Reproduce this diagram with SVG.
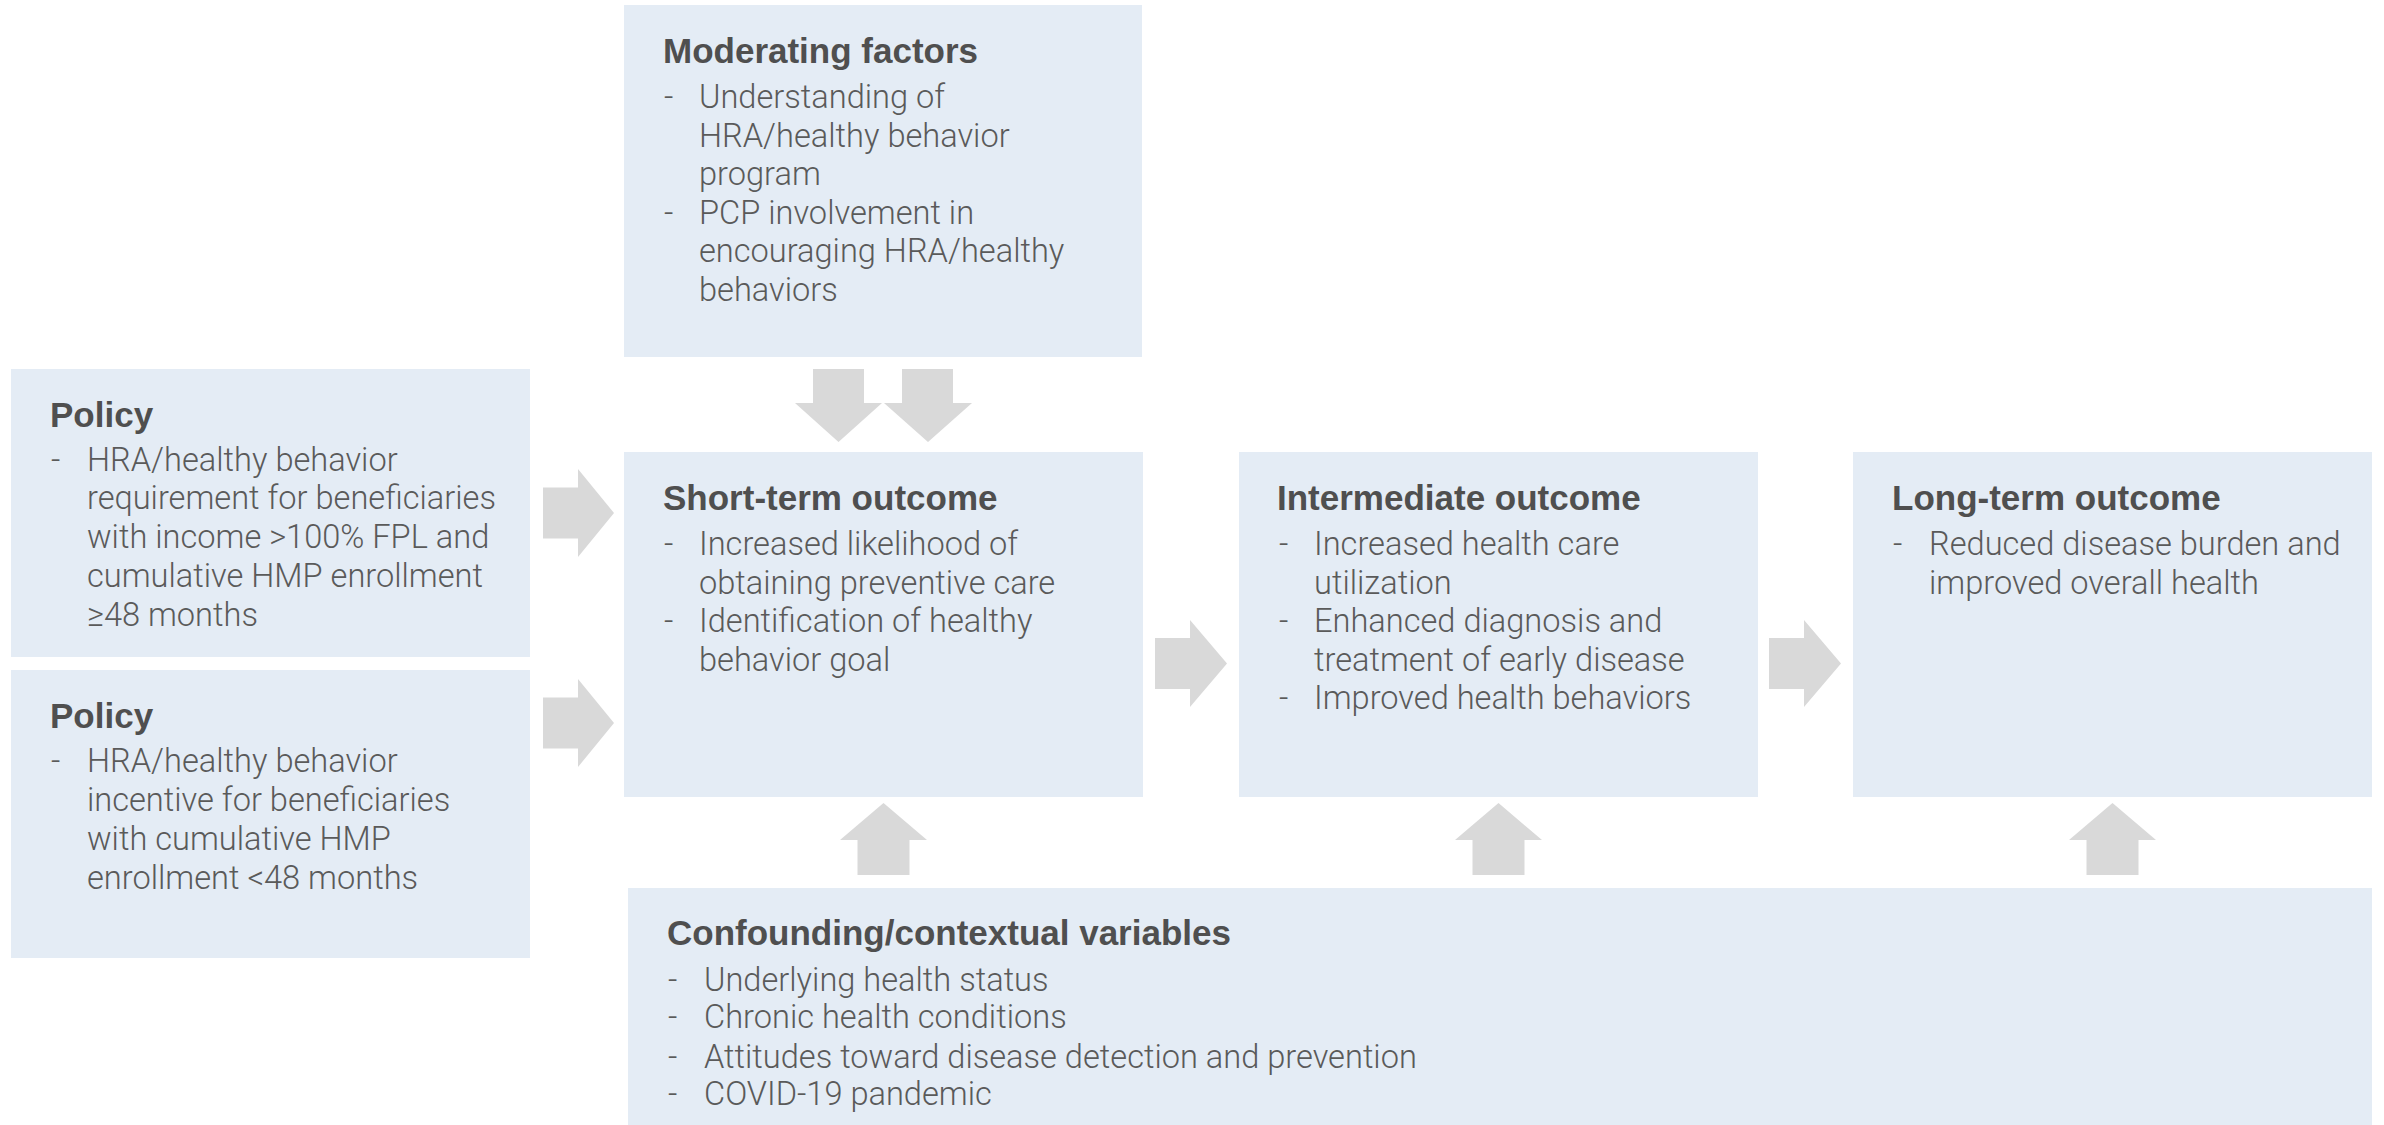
<svg xmlns="http://www.w3.org/2000/svg" width="2384" height="1125" viewBox="0 0 2384 1125">
<style>
.box{fill:#e4ecf5}
.arr{fill:#d9d9d9}
.t{font-family:"Liberation Sans","Roboto",sans-serif;font-weight:700;font-size:35px;fill:#4f4f4f}
.b{font-family:"Roboto","Liberation Sans",sans-serif;font-weight:300;font-size:32.6px;fill:#5a5a5a}
</style>
<rect width="2384" height="1125" fill="#ffffff"/>
<g id="connectors">
<polygon class="arr" points="543,487.5 578,487.5 578,469 614,513 578,557 578,538.5 543,538.5"/>
<polygon class="arr" points="543,697.5 578,697.5 578,679 614,723 578,767 578,748.5 543,748.5"/>
<polygon class="arr" points="1155,638 1190,638 1190,620 1227,663.5 1190,707 1190,689 1155,689"/>
<polygon class="arr" points="1769,638 1804,638 1804,620 1841,663.5 1804,707 1804,689 1769,689"/>
<polygon class="arr" points="813,369 864,369 864,403 882,403 838.5,442 795,403 813,403"/>
<polygon class="arr" points="902,369 953,369 953,403 972,403 928,442 884,403 902,403"/>
<polygon class="arr" points="883.5,803 927,840 909.5,840 909.5,875 857.5,875 857.5,840 840,840"/>
<polygon class="arr" points="1498.5,803 1542,840 1524.5,840 1524.5,875 1472.5,875 1472.5,840 1455,840"/>
<polygon class="arr" points="2112.5,803 2156,840 2138.5,840 2138.5,875 2086.5,875 2086.5,840 2069,840"/>
</g>
<g id="moderating">
<rect class="box" x="624" y="5" width="518" height="352"/>
<text class="t" x="663" y="63">Moderating factors</text>
<text class="b" x="664" y="108">-</text>
<text class="b" x="699" y="108"><tspan x="699" y="108">Understanding of</tspan><tspan x="699" y="146.5">HRA/healthy behavior</tspan><tspan x="699" y="185">program</tspan></text>
<text class="b" x="664" y="223.5">-</text>
<text class="b" x="699" y="223.5"><tspan x="699" y="223.5">PCP involvement in</tspan><tspan x="699" y="262">encouraging HRA/healthy</tspan><tspan x="699" y="300.5">behaviors</tspan></text>
</g>
<g id="policy1">
<rect class="box" x="11" y="369" width="519" height="288"/>
<text class="t" x="50" y="427">Policy</text>
<text class="b" x="51" y="470.5">-</text>
<text class="b" x="87" y="470.5"><tspan x="87" y="470.5">HRA/healthy behavior</tspan><tspan x="87" y="509">requirement for beneficiaries</tspan><tspan x="87" y="548">with income &gt;100% FPL and</tspan><tspan x="87" y="587">cumulative HMP enrollment</tspan><tspan x="87" y="626">≥48 months</tspan></text>
</g>
<g id="policy2">
<rect class="box" x="11" y="670" width="519" height="288"/>
<text class="t" x="50" y="728">Policy</text>
<text class="b" x="51" y="772">-</text>
<text class="b" x="87" y="772"><tspan x="87" y="772">HRA/healthy behavior</tspan><tspan x="87" y="811">incentive for beneficiaries</tspan><tspan x="87" y="850">with cumulative HMP</tspan><tspan x="87" y="889">enrollment &lt;48 months</tspan></text>
</g>
<g id="short-term">
<rect class="box" x="624" y="452" width="519" height="345"/>
<text class="t" x="663" y="510">Short-term outcome</text>
<text class="b" x="664" y="555">-</text>
<text class="b" x="699" y="555"><tspan x="699" y="555">Increased likelihood of</tspan><tspan x="699" y="593.5">obtaining preventive care</tspan></text>
<text class="b" x="664" y="632">-</text>
<text class="b" x="699" y="632"><tspan x="699" y="632">Identification of healthy</tspan><tspan x="699" y="670.5">behavior goal</tspan></text>
</g>
<g id="intermediate">
<rect class="box" x="1239" y="452" width="519" height="345"/>
<text class="t" x="1277" y="510">Intermediate outcome</text>
<text class="b" x="1279" y="555">-</text>
<text class="b" x="1314" y="555"><tspan x="1314" y="555">Increased health care</tspan><tspan x="1314" y="593.5">utilization</tspan></text>
<text class="b" x="1279" y="632">-</text>
<text class="b" x="1314" y="632"><tspan x="1314" y="632">Enhanced diagnosis and</tspan><tspan x="1314" y="670.5">treatment of early disease</tspan></text>
<text class="b" x="1279" y="709">-</text>
<text class="b" x="1314" y="709">Improved health behaviors</text>
</g>
<g id="long-term">
<rect class="box" x="1853" y="452" width="519" height="345"/>
<text class="t" x="1892" y="510">Long-term outcome</text>
<text class="b" x="1893" y="555">-</text>
<text class="b" x="1929" y="555"><tspan x="1929" y="555">Reduced disease burden and</tspan><tspan x="1929" y="593.5">improved overall health</tspan></text>
</g>
<g id="confounding">
<rect class="box" x="628" y="888" width="1744" height="237"/>
<text class="t" x="667" y="945">Confounding/contextual variables</text>
<text class="b" x="668" y="991">-</text>
<text class="b" x="704" y="991">Underlying health status</text>
<text class="b" x="668" y="1028">-</text>
<text class="b" x="704" y="1028">Chronic health conditions</text>
<text class="b" x="668" y="1068">-</text>
<text class="b" x="704" y="1068">Attitudes toward disease detection and prevention</text>
<text class="b" x="668" y="1105">-</text>
<text class="b" x="704" y="1105">COVID-19 pandemic</text>
</g>
</svg>
